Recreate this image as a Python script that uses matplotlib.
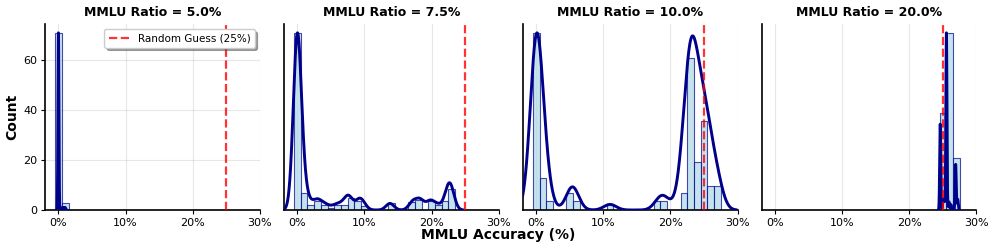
import numpy as np
import matplotlib
matplotlib.use("Agg")
import matplotlib.pyplot as plt

# ---------------- data ----------------
ratio_labels = ["5.0%", "7.5%", "10.0%", "20.0%"]

# accuracy values (%) and how many models sit at each value
p1_acc = [0.0, 0.6, 0.8, 1.0]
p1_cnt = [71, 1, 1, 1]

p2_acc = [0.0, 1.0, 2.0, 3.0, 4.0, 5.0, 6.0, 7.0, 7.7, 9.2, 9.8,
          13.8, 17.2, 18.3, 19.8, 20.9, 22.3, 22.8]
p2_cnt = [71, 7, 2, 3.6, 2, 1, 2, 2, 4.8, 3.6, 1.7,
          2.7, 3.3, 4.0, 3.6, 1.9, 3.6, 8.4]

p3_acc = [0.0, 1.0, 1.7, 5.3, 5.6, 11.0, 18.4, 19.2, 21.7,
          22.55, 22.9, 23.3, 23.9, 24.6, 25.0, 25.4, 26.1, 27.0]
p3_cnt = [71, 13, 3.5, 7, 3.5, 2.5, 3.7, 3.5, 6.7,
          20, 21, 20, 19.3, 12, 12, 11.6, 9.7, 9.7]

p4_acc = [24.6, 25.0, 25.2, 25.52, 25.9, 26.2, 26.9, 27.2]
p4_cnt = [32, 3, 4, 66, 3, 2, 17, 4]

panels_acc = [p1_acc, p2_acc, p3_acc, p4_acc]
panels_cnt = [p1_cnt, p2_cnt, p3_cnt, p4_cnt]
kde_bw = [0.07, 0.6, 0.92, 0.08]

random_guess = 25
bin_edges = np.arange(-0.5, 31, 1.0)
x_ticks = [0, 10, 20, 30]
y_ticks = [0, 20, 40, 60]

# ---------------- plot ----------------
fig, axes = plt.subplots(1, 4, figsize=(9.96, 2.49), dpi=100)
fig.subplots_adjust(left=0.0452, right=0.9804, bottom=0.1566, top=0.9036, wspace=0.112)


def kde_curve(vals, wts, bw):
    vals = np.asarray(vals, float)
    wts = np.asarray(wts, float)
    grid = np.linspace(vals.min() - 3 * bw, vals.max() + 3 * bw, 1500)
    dens = (wts[None, :] * np.exp(-0.5 * ((grid[:, None] - vals[None, :]) / bw) ** 2)).sum(1)
    return grid, dens


for i, ax in enumerate(axes):
    acc = panels_acc[i]
    cnt = panels_cnt[i]
    n, _, _ = ax.hist(acc, bins=bin_edges, weights=cnt, color="lightblue",
                      edgecolor="darkblue", alpha=0.7, linewidth=0.8, zorder=2)
    gx, gd = kde_curve(acc, cnt, kde_bw[i])
    gd = gd * n.max() / gd.max()
    ax.plot(gx, gd, color="darkblue", linewidth=2.1, zorder=3)
    ax.axvline(random_guess, color="red", linestyle="--", linewidth=1.6, alpha=0.8,
               label="Random Guess (25%)", zorder=4)
    ax.set_xlim(-2, 30)
    ax.set_ylim(0, 71 * 1.05)
    ax.set_xticks(x_ticks)
    ax.set_xticklabels([f"{t}%" for t in x_ticks], fontsize=8)
    ax.tick_params(axis="both", length=3, pad=2.5, width=0.8)
    ax.set_title(f"MMLU Ratio = {ratio_labels[i]}", fontsize=9, fontweight="bold", pad=6)
    ax.set_axisbelow(True)
    ax.grid(True, alpha=0.3, linewidth=0.8)
    for s in ["top", "right"]:
        ax.spines[s].set_visible(False)
    for s in ["left", "bottom"]:
        ax.spines[s].set_color("black")
        ax.spines[s].set_linewidth(1.2)
    if i == 0:
        ax.set_yticks(y_ticks)
        ax.set_yticklabels([str(t) for t in y_ticks], fontsize=8)
        ax.set_ylabel("Count", fontsize=10, fontweight="bold", labelpad=3)
        ax.legend(loc="upper right", fontsize=7.5, shadow=True, fancybox=True,
                  framealpha=1.0, handlelength=2.0)
    else:
        ax.set_yticks([])

fig.text(0.5, 0.057, "MMLU Accuracy (%)", ha="center", va="center",
         fontsize=10, fontweight="bold")

fig.savefig("out.png", dpi=100)
